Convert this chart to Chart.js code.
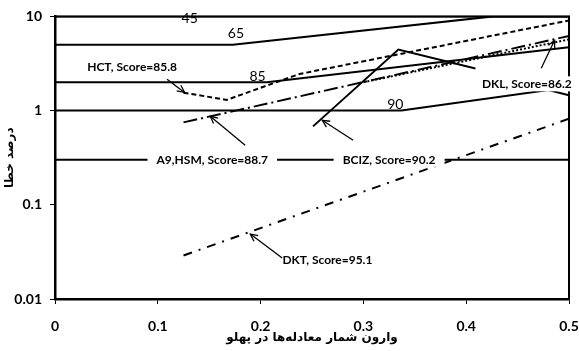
<!DOCTYPE html>
<html>
<head>
<meta charset="utf-8">
<script src="https://cdn.jsdelivr.net/npm/chart.js@4"></script>
<style>
html, body { margin: 0; padding: 0; background: #fff; }
</style>
</head>
<body>
<canvas id="chart" width="579" height="351"></canvas>
<script>
// ─── DATOS ────────────────────────────────────────────────
const xTicks = [0, 0.1, 0.2, 0.3, 0.4, 0.5]
const yTicks = [0.01, 0.1, 1, 10]

// contour lines (score levels)
const c45X = [0, 0.5]
const c45Y = [10, 10]
const c65X = [0, 0.173, 0.426, 0.5]
const c65Y = [5, 5, 10, 10]
const c85X = [0, 0.206, 0.5]
const c85Y = [2, 2, 4.7]
const c90X = [0, 0.337, 0.48, 0.5]
const c90Y = [1, 1, 1.65, 1.45]
const c95X = [0, 0.5]
const c95Y = [0.3, 0.3]

// elements
const hctX = [0.125, 0.167, 0.238, 0.5]
const hctY = [1.55, 1.3, 2.45, 9.05]
const a9X = [0.125, 0.5]
const a9Y = [0.75, 6.2]
const bcizX = [0.251, 0.334, 0.409]
const bcizY = [0.68, 4.45, 2.8]
const dklX = [0.3, 0.5]
const dklY = [2.0, 5.7]
const dktX = [0.125, 0.5]
const dktY = [0.029, 0.82]

const levelLabels = ['45', '65', '85', '90']
const levelAt = [[0.131, 9.5], [0.176, 6.6], [0.197, 2.31], [0.331, 1.17]]

const noteLabels = ['HCT, Score=85.8', 'A9,HSM, Score=88.7', 'BCIZ, Score=90.2', 'DKL, Score=86.2', 'DKT, Score=95.1']
// [textX, textY, fromX, fromY, toX, toY]
const noteAt = [
    [0.075, 2.88, 0.109, 2.15, 0.126, 1.56],
    [0.153, 0.3, 0.185, 0.429, 0.151, 0.871],
    [0.325, 0.3, 0.29, 0.485, 0.26, 0.79],
    [0.459, 1.9, 0.473, 2.81, 0.486, 5.57],
    [0.265, 0.0259, 0.221, 0.0272, 0.19, 0.0489]
]

const pts = (xs, ys) => xs.map((x, i) => ({ x, y: ys[i] }))

function line(xs, ys, dash) {
    return {
        data: pts(xs, ys),
        borderColor: '#000',
        borderWidth: 2,
        borderDash: dash || [],
        pointRadius: 0,
        tension: 0,
        fill: false
    }
}

// ─── PLUGINS ──────────────────────────────────────────────
const frame = {
    id: 'frame',
    beforeDatasetsDraw(chart) {
        const { ctx, chartArea: a } = chart
        ctx.save()
        ctx.strokeStyle = '#000'
        ctx.lineWidth = 2
        ctx.strokeRect(a.left, a.top, a.width, a.height)
        ctx.restore()
    }
}

function arrow(ctx, x1, y1, x2, y2) {
    ctx.beginPath()
    ctx.moveTo(x1, y1)
    ctx.lineTo(x2, y2)
    ctx.stroke()
    const a = Math.atan2(y2 - y1, x2 - x1)
    const h = 8
    ctx.beginPath()
    ctx.moveTo(x2 - h * Math.cos(a - 0.45), y2 - h * Math.sin(a - 0.45))
    ctx.lineTo(x2, y2)
    ctx.lineTo(x2 - h * Math.cos(a + 0.45), y2 - h * Math.sin(a + 0.45))
    ctx.stroke()
}

const notes = {
    id: 'notes',
    afterDatasetsDraw(chart) {
        const { ctx } = chart
        const sx = chart.scales.x, sy = chart.scales.y
        ctx.save()
        ctx.fillStyle = '#000'
        ctx.textAlign = 'center'
        ctx.textBaseline = 'middle'

        ctx.font = '14px Lato'
        levelLabels.forEach((t, i) => {
            ctx.fillText(t, sx.getPixelForValue(levelAt[i][0]), sy.getPixelForValue(levelAt[i][1]))
        })

        ctx.font = 'bold 12px Lato'
        ctx.strokeStyle = '#000'
        ctx.lineWidth = 1.3
        noteLabels.forEach((t, i) => {
            const n = noteAt[i]
            const px = sx.getPixelForValue(n[0]), py = sy.getPixelForValue(n[1])
            const w = ctx.measureText(t).width
            ctx.fillStyle = '#fff'
            ctx.fillRect(px - w / 2 - 9, py - 8, w + 18, 15)
            ctx.fillStyle = '#000'
            ctx.fillText(t, px, py)
            arrow(ctx, sx.getPixelForValue(n[2]), sy.getPixelForValue(n[3]),
                sx.getPixelForValue(n[4]), sy.getPixelForValue(n[5]))
        })
        ctx.restore()
    }
}

// ─── CHART ────────────────────────────────────────────────
const tickFont = { family: 'Lato', size: 14, weight: 'bold' }
const titleFont = { family: 'DejaVu Sans', size: 12, weight: 'bold' }

new Chart(document.getElementById('chart'), {
    type: 'line',
    data: {
        datasets: [
            line(c45X, c45Y),
            line(c65X, c65Y),
            line(c85X, c85Y),
            line(c90X, c90Y),
            line(c95X, c95Y),
            line(hctX, hctY, [5, 3]),
            line(a9X, a9Y, [14, 4, 2, 4]),
            line(bcizX, bcizY),
            line(dklX, dklY, [2, 2]),
            line(dktX, dktY, [9, 7, 2, 7])
        ]
    },
    options: {
        responsive: false,
        animation: false,
        layout: { padding: { top: 16, right: 10, left: 0, bottom: 0 } },
        plugins: { legend: { display: false }, tooltip: { enabled: false } },
        scales: {
            x: {
                type: 'linear',
                min: 0,
                max: 0.5,
                afterBuildTicks: s => { s.ticks = xTicks.map(v => ({ value: v })) },
                afterFit: s => { s.height = 52; s.paddingLeft = 0; s.paddingRight = 0 },
                ticks: { callback: v => String(v), color: '#000', font: tickFont, padding: 14, maxRotation: 0 },
                grid: { drawOnChartArea: false, tickLength: 5, color: '#000' },
                border: { color: '#000', width: 2.5 },
                title: {
                    display: true,
                    text: 'وارون شمار معادله‌ها در پهلو',
                    color: '#000',
                    font: titleFont,
                    padding: { top: 0, bottom: 6 }
                }
            },
            y: {
                type: 'logarithmic',
                min: 0.01,
                max: 10,
                afterBuildTicks: s => { s.ticks = yTicks.map(v => ({ value: v })) },
                afterFit: s => { s.width = 55 },
                ticks: { callback: v => String(v), color: '#000', font: tickFont, padding: 8 },
                grid: { drawOnChartArea: false, tickLength: 5, color: '#000' },
                border: { color: '#000', width: 2.5 },
                title: {
                    display: true,
                    text: 'درصد خطا',
                    color: '#000',
                    font: titleFont,
                    padding: { top: 3, bottom: 0 }
                }
            }
        }
    },
    plugins: [frame, notes]
})
</script>
</body>
</html>
